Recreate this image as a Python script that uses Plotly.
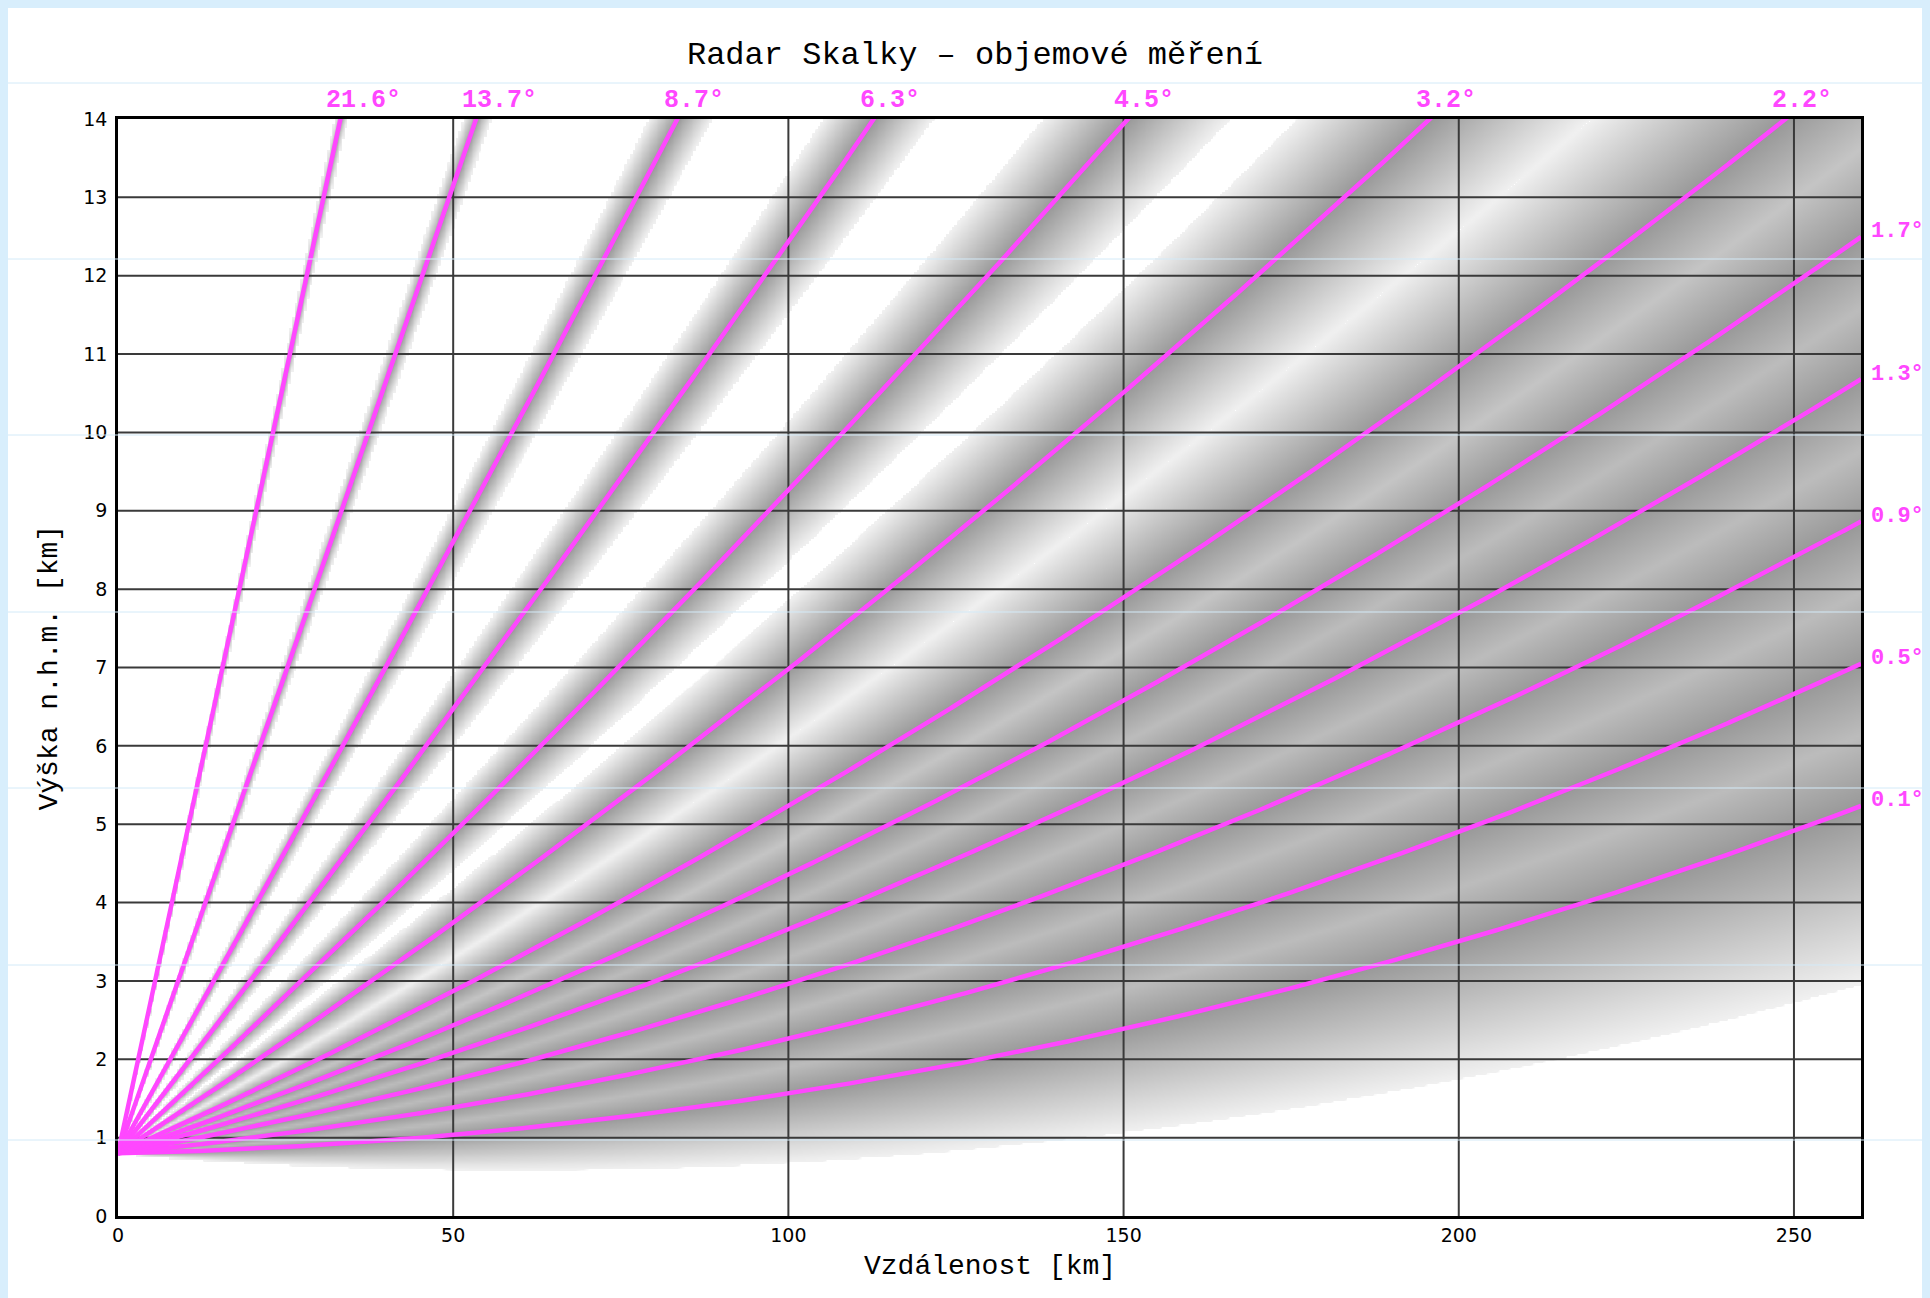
import numpy as np
import plotly.graph_objects as go

# ---------------- data ----------------
elevations_deg = [0.1, 0.5, 0.9, 1.3, 1.7, 2.2, 3.2, 4.5, 6.3, 8.7, 13.7, 21.6]
radar_height_km = 0.8
beam_halfwidth_deg = 0.5
earth_radius_km = 6371.0
refraction_k = 4.0 / 3.0

x_range = [0, 260]
y_range = [0, 14]
x_ticks = [0, 50, 100, 150, 200, 250]
y_ticks = list(range(0, 15))

title_text = "Radar Skalky – objemové měření"
x_title = "Vzdálenost [km]"
y_title = "Výška n.h.m. [km]"

# ---------------- style ----------------
MAGENTA = "#ff47ff"
GRID = "#3a3a3a"
MONO = "Liberation Mono, DejaVu Sans Mono, monospace"
TICKFONT = "DejaVu Sans, sans-serif"

W, H = 1922, 1290
ML, MR, MT, MB = 110, 69, 111, 82
PW, PH = W - ML - MR, H - MT - MB

ekr = 2.0 * refraction_k * earth_radius_km


def beam_height(x, elev):
    return radar_height_km + x * np.tan(np.radians(elev)) + x ** 2 / ekr


fig = go.Figure()

# beam shading (intensity falls off from beam axis to the beam edge)
xs = np.arange(0.2, x_range[1] + 0.4, 0.4)
ys = np.arange(0.0, y_range[1] + 0.03, 0.03)
X, Y = np.meshgrid(xs, ys)
theta = np.degrees(np.arctan((Y - radar_height_km - X ** 2 / ekr) / X))
inten = np.zeros_like(X)
for e in elevations_deg:
    inten = np.maximum(inten, np.clip(1 - np.abs(theta - e) / beam_halfwidth_deg, 0, 1))
inten = np.round(inten, 3)

fig.add_trace(go.Heatmap(
    x=xs, y=ys, z=inten, zmin=0, zmax=1, zsmooth="best",
    colorscale=[[0, "#ffffff"], [0.002, "#f0f0f0"], [1, "#999999"]],
    showscale=False, hoverinfo="skip",
))

# grid lines (drawn over the shading)
gx, gy = [], []
for xv in x_ticks[1:]:
    gx += [xv, xv, None]
    gy += [y_range[0], y_range[1], None]
for yv in y_ticks[1:-1]:
    gx += [x_range[0], x_range[1], None]
    gy += [yv, yv, None]
fig.add_trace(go.Scatter(x=gx, y=gy, mode="lines",
                         line=dict(color=GRID, width=2),
                         hoverinfo="skip", showlegend=False))

# beam axes
xl = np.linspace(x_range[0], x_range[1], 1301)
annotations = []
for e in elevations_deg:
    hl = beam_height(xl, e)
    fig.add_trace(go.Scatter(x=xl, y=hl, mode="lines",
                             line=dict(color=MAGENTA, width=4.5),
                             hoverinfo="skip", showlegend=False))
    label = f"{e:.1f}°"
    if hl[-1] >= y_range[1]:
        x_end = float(np.interp(y_range[1], hl, xl))
        annotations.append(dict(x=x_end, y=y_range[1], xref="x", yref="y",
                                text=label, showarrow=False,
                                xanchor="left", yanchor="middle",
                                xshift=-16, yshift=19,
                                font=dict(family=MONO, size=25, color=MAGENTA, weight="bold")))
    else:
        annotations.append(dict(x=x_range[1], y=float(hl[-1]), xref="x", yref="y",
                                text=label, showarrow=False,
                                xanchor="left", yanchor="middle",
                                xshift=8, yshift=5,
                                font=dict(family=MONO, size=22, color=MAGENTA, weight="bold")))

# axis titles
annotations.append(dict(x=0.5, y=0, xref="paper", yref="paper", text=x_title,
                        showarrow=False, xanchor="center", yanchor="middle",
                        yshift=-50, font=dict(family=MONO, size=28, color="#000")))
annotations.append(dict(x=0, y=0.5, xref="paper", yref="paper", text=y_title,
                        showarrow=False, xanchor="center", yanchor="middle",
                        textangle=-90, xshift=-69,
                        font=dict(family=MONO, size=28, color="#000")))

# faint page lines of the original screenshot
shapes = []
for fy in [75, 251, 427, 604, 780, 957, 1132]:
    py = (H - MB - fy) / PH
    shapes.append(dict(type="line", xref="paper", yref="paper",
                       x0=-ML / PW, x1=(W - ML) / PW, y0=py, y1=py,
                       line=dict(color="#d3eaf8", width=1), layer="above"))

fig.update_layout(
    width=W, height=H,
    margin=dict(l=ML, r=MR, t=MT, b=MB, autoexpand=False),
    paper_bgcolor="#ffffff", plot_bgcolor="#ffffff",
    showlegend=False,
    title=dict(text=title_text, x=(975 - 8) / W, xref="container", xanchor="center",
               y=1 - 45 / H, yref="container", yanchor="middle",
               font=dict(family=MONO, size=32, color="#000")),
    annotations=annotations,
    shapes=shapes,
)
fig.update_xaxes(range=x_range, tickvals=x_ticks, showgrid=False, zeroline=False,
                 showline=True, mirror=True, linecolor="#000", linewidth=2.5,
                 ticks="", ticklabelstandoff=0,
                 tickfont=dict(family=TICKFONT, size=19, color="#000"))
fig.update_yaxes(range=y_range, tickvals=y_ticks, showgrid=False, zeroline=False,
                 showline=True, mirror=True, linecolor="#000", linewidth=2.5,
                 ticks="", ticklabelstandoff=4,
                 tickfont=dict(family=TICKFONT, size=19, color="#000"))

fig.write_html(
    "out.html",
    post_script="document.body.style.background='#d8eefc';"
                "document.documentElement.style.overflow='hidden';"
                "document.body.style.overflow='hidden';",
)
